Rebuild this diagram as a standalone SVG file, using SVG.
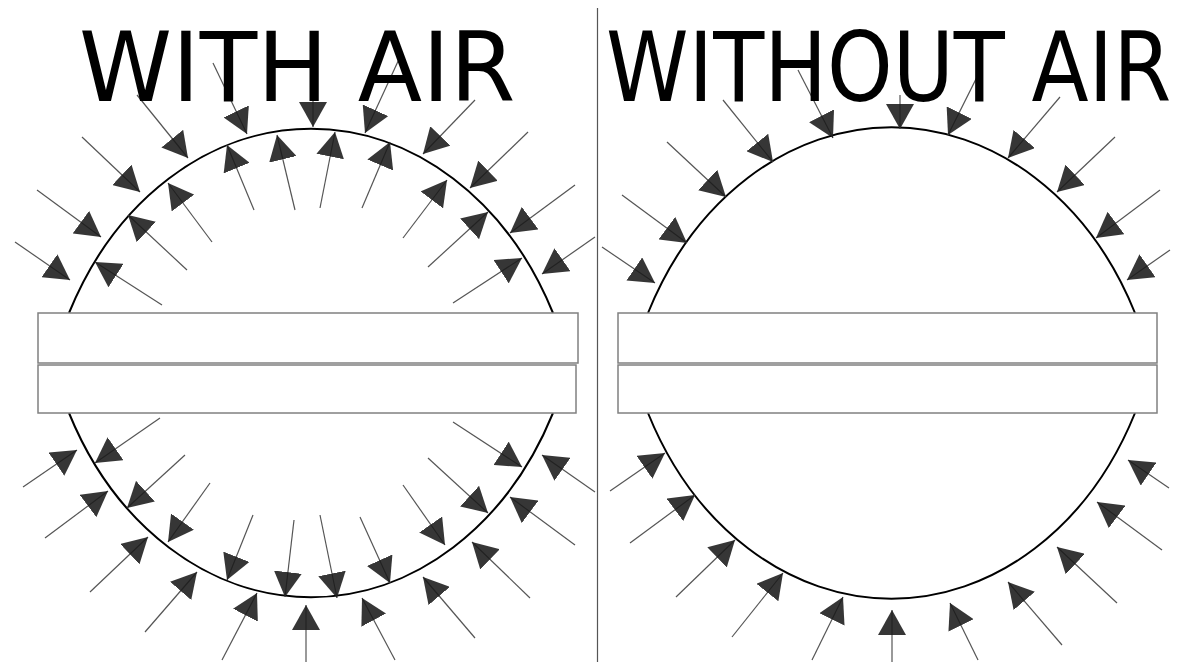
<svg xmlns="http://www.w3.org/2000/svg" width="1182" height="662" viewBox="0 0 1182 662">
<style>
.title{font-family:"DejaVu Sans",sans-serif;font-size:96px;fill:#000}
.ell{fill:none;stroke:#000;stroke-width:2}
.bar{fill:#fff;stroke:#808080;stroke-width:1.5}
.ar line{stroke:#555;stroke-width:1.2;marker-end:url(#ah)}
.div{stroke:#555;stroke-width:1.2}
</style>
<defs>
<marker id="ah" viewBox="0 0 25 28" refX="25" refY="14" markerWidth="25" markerHeight="28" markerUnits="userSpaceOnUse" orient="auto">
<path d="M0,0 L25,14 L0,28 Z" fill="#1a1a1a" fill-opacity="0.88"/>
</marker>
</defs>
<rect width="1182" height="662" fill="#fff"/>
<line class="div" x1="597.5" y1="8" x2="597.5" y2="662"/>
<g id="left-panel">
<path class="ell" d="M69,313 A271,335 0 0 1 553,313"/>
<path class="ell" d="M69,413 A271,335 0 0 0 553,413"/>
<rect class="bar" x="38" y="313" width="540" height="50"/>
<rect class="bar" x="38" y="365" width="538" height="48"/>
</g>
<g id="right-panel">
<path class="ell" d="M648,313 A272,335 0 0 1 1135,313"/>
<path class="ell" d="M648,413 A272,335 0 0 0 1135,413"/>
<rect class="bar" x="618" y="313" width="539" height="50"/>
<rect class="bar" x="618" y="365" width="539" height="48"/>
</g>
<g id="connectors" class="ar">
<line x1="15" y1="242" x2="70" y2="280"/>
<line x1="37" y1="190" x2="101" y2="237"/>
<line x1="82" y1="137" x2="140" y2="192"/>
<line x1="137" y1="95" x2="188" y2="158"/>
<line x1="213" y1="63" x2="247" y2="134"/>
<line x1="313" y1="68" x2="313" y2="127"/>
<line x1="400" y1="57" x2="365" y2="133"/>
<line x1="475" y1="100" x2="423" y2="154"/>
<line x1="528" y1="132" x2="470" y2="188"/>
<line x1="575" y1="185" x2="510" y2="233"/>
<line x1="595" y1="237" x2="542" y2="274"/>
<line x1="162" y1="305" x2="95" y2="262"/>
<line x1="187" y1="270" x2="128" y2="215"/>
<line x1="212" y1="242" x2="168" y2="183"/>
<line x1="254" y1="210" x2="227" y2="145"/>
<line x1="295" y1="210" x2="277" y2="135"/>
<line x1="320" y1="208" x2="335" y2="132"/>
<line x1="362" y1="208" x2="390" y2="142"/>
<line x1="403" y1="238" x2="447" y2="180"/>
<line x1="428" y1="267" x2="488" y2="212"/>
<line x1="453" y1="303" x2="522" y2="258"/>
<line x1="23" y1="487" x2="77" y2="450"/>
<line x1="45" y1="538" x2="108" y2="491"/>
<line x1="90" y1="592" x2="148" y2="537"/>
<line x1="145" y1="632" x2="197" y2="572"/>
<line x1="222" y1="660" x2="257" y2="593"/>
<line x1="306" y1="662" x2="306" y2="605"/>
<line x1="395" y1="660" x2="362" y2="598"/>
<line x1="475" y1="638" x2="423" y2="577"/>
<line x1="530" y1="598" x2="472" y2="542"/>
<line x1="575" y1="545" x2="510" y2="497"/>
<line x1="595" y1="492" x2="542" y2="455"/>
<line x1="160" y1="418" x2="95" y2="463"/>
<line x1="185" y1="455" x2="127" y2="508"/>
<line x1="210" y1="483" x2="168" y2="542"/>
<line x1="253" y1="515" x2="227" y2="580"/>
<line x1="294" y1="520" x2="285" y2="597"/>
<line x1="320" y1="515" x2="337" y2="598"/>
<line x1="360" y1="517" x2="390" y2="583"/>
<line x1="403" y1="485" x2="445" y2="545"/>
<line x1="428" y1="458" x2="488" y2="513"/>
<line x1="453" y1="422" x2="522" y2="467"/>
<line x1="602" y1="247" x2="655" y2="283"/>
<line x1="622" y1="195" x2="687" y2="243"/>
<line x1="667" y1="142" x2="726" y2="197"/>
<line x1="723" y1="100" x2="773" y2="162"/>
<line x1="798" y1="70" x2="833" y2="138"/>
<line x1="900" y1="95" x2="900" y2="129"/>
<line x1="978" y1="75" x2="948" y2="135"/>
<line x1="1060" y1="97" x2="1008" y2="158"/>
<line x1="1115" y1="137" x2="1057" y2="192"/>
<line x1="1160" y1="190" x2="1096" y2="238"/>
<line x1="1170" y1="250" x2="1127" y2="280"/>
<line x1="610" y1="491" x2="665" y2="453"/>
<line x1="630" y1="543" x2="695" y2="495"/>
<line x1="676" y1="597" x2="735" y2="540"/>
<line x1="732" y1="637" x2="783" y2="573"/>
<line x1="812" y1="660" x2="843" y2="597"/>
<line x1="892" y1="662" x2="892" y2="610"/>
<line x1="978" y1="660" x2="950" y2="603"/>
<line x1="1062" y1="645" x2="1008" y2="582"/>
<line x1="1117" y1="603" x2="1057" y2="547"/>
<line x1="1162" y1="550" x2="1097" y2="502"/>
<line x1="1169" y1="488" x2="1128" y2="460"/>
</g>
<g id="titles">
<text class="title" transform="translate(79,101) scale(0.98,1)" x="0" y="0">WITH AIR</text>
<text class="title" transform="translate(606,101) scale(0.87,1)" x="0" y="0">WITHOUT AIR</text>
</g>
</svg>
